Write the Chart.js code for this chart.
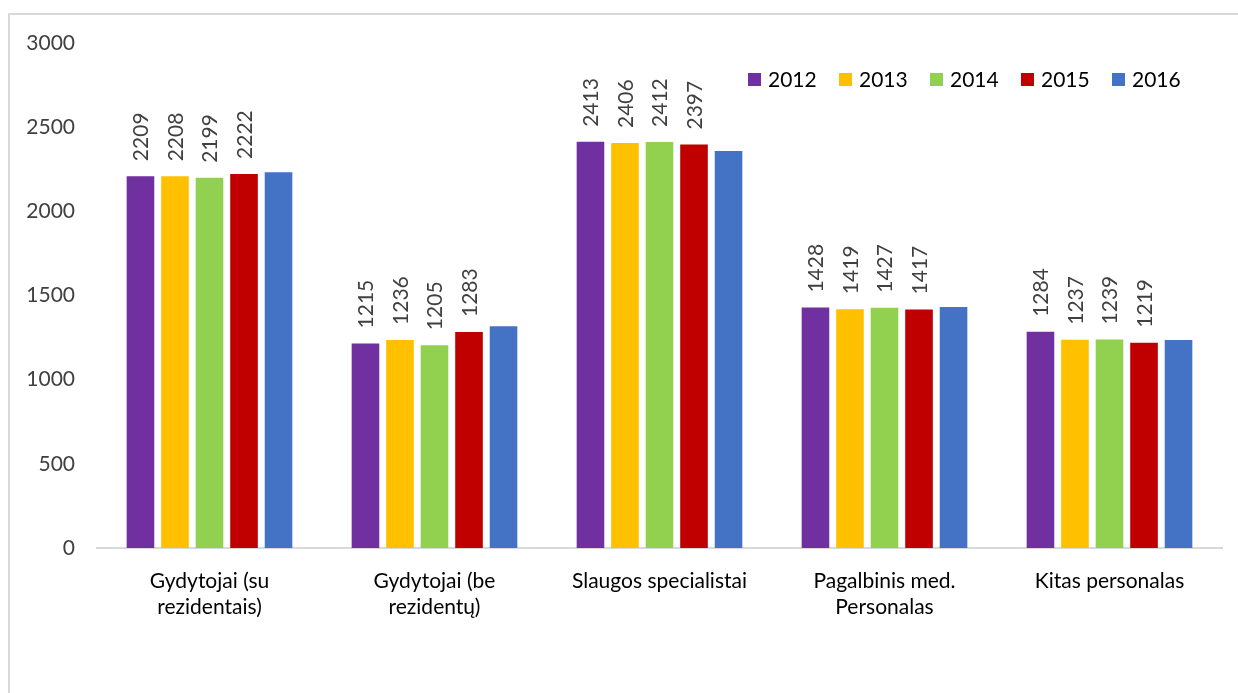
<!DOCTYPE html>
<html>
<head>
<meta charset="utf-8">
<script src="https://cdn.jsdelivr.net/npm/chart.js@4.4.1/dist/chart.umd.min.js"></script>
<style>
  html, body { margin: 0; padding: 0; background: #ffffff; }
  #wrap { position: relative; width: 1238px; height: 693px; }
  canvas { display: block; }
</style>
</head>
<body>
<div id="wrap"><canvas id="chart" width="1238" height="693"></canvas></div>
<script>
// Staff categories (two-line labels)
const categories = [
  ['Gydytojai (su', 'rezidentais)'],
  ['Gydytojai (be', 'rezidentų)'],
  ['Slaugos specialistai'],
  ['Pagalbinis med.', 'Personalas'],
  ['Kitas personalas']
];
const years = ['2012', '2013', '2014', '2015', '2016'];

const values2012 = [2209, 1215, 2413, 1428, 1284];
const values2013 = [2208, 1236, 2406, 1419, 1237];
const values2014 = [2199, 1205, 2412, 1427, 1239];
const values2015 = [2222, 1283, 2397, 1417, 1219];
const values2016 = [2232, 1317, 2359, 1432, 1236];

const yTicks = [0, 500, 1000, 1500, 2000, 2500, 3000];

const colors = ['#7030a0', '#ffc000', '#92d050', '#c00000', '#4472c4'];
const labelledYears = ['2012', '2013', '2014', '2015'];

const FONT = 'Lato, "Open Sans", sans-serif';

const seriesValues = [values2012, values2013, values2014, values2015, values2016];

// Outer frame of the chart
const framePlugin = {
  id: 'frame',
  beforeDraw(chart) {
    const ctx = chart.ctx;
    ctx.save();
    ctx.fillStyle = '#ffffff';
    ctx.fillRect(0, 0, chart.width, chart.height);
    ctx.strokeStyle = '#d9d9d9';
    ctx.lineWidth = 2;
    ctx.strokeRect(9, 14, chart.width + 20, chart.height + 20);
    ctx.restore();
  }
};

// Vertical value labels above the bars
const valueLabelPlugin = {
  id: 'valueLabels',
  afterDatasetsDraw(chart) {
    const ctx = chart.ctx;
    ctx.save();
    ctx.font = '21px ' + FONT;
    ctx.fillStyle = '#404040';
    ctx.textAlign = 'left';
    ctx.textBaseline = 'middle';
    chart.data.datasets.forEach((ds, i) => {
      if (!labelledYears.includes(ds.label)) return;
      const meta = chart.getDatasetMeta(i);
      meta.data.forEach((bar, j) => {
        ctx.save();
        ctx.translate(bar.x + 1, bar.y - 15);
        ctx.rotate(-Math.PI / 2);
        ctx.fillText(String(ds.data[j]), 0, 0);
        ctx.restore();
      });
    });
    ctx.restore();
  }
};

// Legend drawn inside the plot area, top right
const legendPlugin = {
  id: 'insideLegend',
  afterDraw(chart) {
    const ctx = chart.ctx;
    ctx.save();
    ctx.font = '21px ' + FONT;
    ctx.textBaseline = 'middle';
    ctx.textAlign = 'left';
    let x = 748;
    const y = 80;
    chart.data.datasets.forEach(ds => {
      ctx.fillStyle = ds.backgroundColor;
      ctx.fillRect(x, y - 7, 13, 13);
      ctx.fillStyle = '#000000';
      ctx.fillText(ds.label, x + 20, y);
      x += 91;
    });
    ctx.restore();
  }
};

new Chart(document.getElementById('chart'), {
  type: 'bar',
  data: {
    labels: categories,
    datasets: years.map((y, i) => ({
      label: y,
      data: seriesValues[i],
      backgroundColor: colors[i],
      borderWidth: 0,
      categoryPercentage: 0.767,
      barPercentage: 0.8
    }))
  },
  options: {
    responsive: false,
    animation: false,
    devicePixelRatio: 1,
    layout: { padding: { left: 20, right: 16, top: 43, bottom: 0 } },
    plugins: {
      legend: { display: false },
      tooltip: { enabled: false }
    },
    scales: {
      x: {
        grid: { display: false, drawTicks: false },
        border: { display: true, color: '#d9d9d9', width: 2 },
        ticks: {
          color: '#000000',
          font: { family: FONT, size: 21, lineHeight: 1.25 },
          padding: 20,
          maxRotation: 0,
          autoSkip: false
        },
        afterFit(scale) { scale.height = 145; }
      },
      y: {
        min: 0,
        max: 3000,
        afterBuildTicks(scale) { scale.ticks = yTicks.map(v => ({ value: v })); },
        grid: { display: false, drawTicks: false },
        border: { display: false },
        ticks: {
          color: '#404040',
          font: { family: FONT, size: 21 },
          padding: 22,
          callback: v => String(v)
        },
        afterFit(scale) { scale.width = 77; }
      }
    }
  },
  plugins: [framePlugin, valueLabelPlugin, legendPlugin]
});
</script>
</body>
</html>
